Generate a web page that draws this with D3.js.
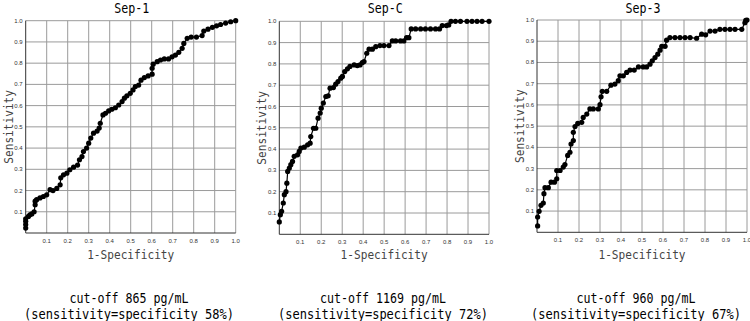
<!DOCTYPE html>
<html><head><meta charset="utf-8">
<script src="https://cdn.jsdelivr.net/npm/d3@7"></script>
<style>body{margin:0;background:#fff}svg{display:block}</style>
</head><body>
<svg id="c" width="750" height="321"></svg>
<script>
const titles = ["Sep-1", "Sep-C", "Sep-3"];
const cutoffLines = ["cut-off 865 pg/mL", "cut-off 1169 pg/mL", "cut-off 960 pg/mL"];
const sensLines = ["(sensitivity=specificity 58%)", "(sensitivity=specificity 72%)", "(sensitivity=specificity 67%)"];
const tickLabels = ["0.1","0.2","0.3","0.4","0.5","0.6","0.7","0.8","0.9","1.0"];
const tickValues = [0.1,0.2,0.3,0.4,0.5,0.6,0.7,0.8,0.9,1.0];

const sep1 = [[0,0.023],[0,0.04],[0,0.055],[0,0.067],[0.013,0.078],[0.02,0.086],[0.029,0.09],[0.04,0.1],[0.045,0.133],[0.045,0.15],[0.052,0.157],[0.068,0.165],[0.084,0.172],[0.1,0.18],[0.116,0.204],[0.13,0.2],[0.148,0.21],[0.164,0.227],[0.167,0.26],[0.18,0.274],[0.196,0.282],[0.21,0.298],[0.228,0.31],[0.247,0.32],[0.256,0.345],[0.268,0.36],[0.275,0.384],[0.29,0.4],[0.3,0.423],[0.31,0.447],[0.323,0.47],[0.34,0.48],[0.35,0.494],[0.355,0.517],[0.368,0.556],[0.38,0.564],[0.395,0.575],[0.41,0.583],[0.427,0.59],[0.443,0.603],[0.459,0.619],[0.47,0.635],[0.482,0.646],[0.498,0.658],[0.511,0.674],[0.522,0.69],[0.538,0.697],[0.549,0.72],[0.565,0.732],[0.583,0.74],[0.602,0.748],[0.602,0.776],[0.607,0.795],[0.626,0.807],[0.642,0.815],[0.66,0.82],[0.68,0.82],[0.697,0.83],[0.713,0.838],[0.729,0.851],[0.745,0.87],[0.753,0.893],[0.769,0.917],[0.788,0.923],[0.813,0.923],[0.84,0.93],[0.848,0.951],[0.868,0.96],[0.889,0.969],[0.909,0.976],[0.928,0.982],[0.952,0.989],[0.976,0.995],[1,1]];

const sepC = [[0,0.058],[0.005,0.092],[0.011,0.108],[0.019,0.147],[0.024,0.186],[0.032,0.2],[0.036,0.24],[0.04,0.295],[0.048,0.311],[0.055,0.327],[0.063,0.342],[0.071,0.366],[0.087,0.373],[0.095,0.389],[0.103,0.405],[0.119,0.409],[0.135,0.42],[0.147,0.428],[0.15,0.459],[0.163,0.498],[0.174,0.498],[0.185,0.545],[0.195,0.569],[0.2,0.592],[0.21,0.616],[0.222,0.647],[0.233,0.65],[0.242,0.686],[0.258,0.689],[0.269,0.705],[0.28,0.717],[0.293,0.733],[0.301,0.741],[0.312,0.764],[0.325,0.777],[0.337,0.788],[0.357,0.795],[0.372,0.792],[0.385,0.795],[0.396,0.806],[0.404,0.811],[0.417,0.85],[0.428,0.869],[0.444,0.869],[0.46,0.881],[0.48,0.886],[0.499,0.886],[0.523,0.886],[0.539,0.908],[0.555,0.908],[0.578,0.908],[0.594,0.908],[0.607,0.923],[0.618,0.923],[0.629,0.964],[0.65,0.964],[0.674,0.964],[0.697,0.964],[0.721,0.964],[0.745,0.964],[0.764,0.964],[0.777,0.98],[0.797,0.98],[0.808,0.983],[0.819,1],[0.84,1],[0.864,1],[0.895,1],[0.919,1],[0.943,1],[0.967,1],[1,1]];

const sep3 = [[0.003,0.03],[0.003,0.072],[0.01,0.099],[0.019,0.127],[0.03,0.138],[0.033,0.182],[0.038,0.21],[0.054,0.21],[0.067,0.236],[0.083,0.236],[0.094,0.252],[0.094,0.291],[0.11,0.291],[0.125,0.307],[0.133,0.319],[0.146,0.362],[0.157,0.377],[0.162,0.416],[0.173,0.432],[0.173,0.471],[0.181,0.498],[0.194,0.513],[0.213,0.518],[0.22,0.541],[0.237,0.557],[0.252,0.581],[0.268,0.581],[0.292,0.581],[0.3,0.601],[0.305,0.638],[0.311,0.664],[0.332,0.664],[0.352,0.693],[0.371,0.698],[0.387,0.714],[0.395,0.737],[0.411,0.737],[0.427,0.753],[0.443,0.764],[0.463,0.764],[0.483,0.779],[0.506,0.779],[0.522,0.779],[0.538,0.792],[0.549,0.808],[0.562,0.823],[0.575,0.839],[0.586,0.858],[0.594,0.876],[0.61,0.876],[0.617,0.905],[0.633,0.917],[0.657,0.917],[0.681,0.917],[0.705,0.917],[0.729,0.917],[0.76,0.914],[0.784,0.933],[0.803,0.93],[0.824,0.948],[0.848,0.948],[0.871,0.956],[0.895,0.956],[0.919,0.956],[0.943,0.956],[0.975,0.956],[0.99,0.987],[0.994,0.998],[1,1]];

const seriesList = [sep1, sepC, sep3];
const panels = [
  {x0: 25.7, x1: 235.7, y0: 233, y1: 20.7, noteX: 129},
  {x0: 279.3, x1: 489, y0: 234.3, y1: 21.3, noteX: 383},
  {x0: 537, x1: 747, y0: 232.3, y1: 20, noteX: 636}
];
const FONT = "'DejaVu Sans Mono', monospace";
const MONO_W = 0.602; // advance width of DejaVu Sans Mono in em
const svg = d3.select("#c");

// draw monospace text condensed horizontally so each char is charW wide
function condText(parent, str, cx, cy, size, charW, fill, rotate) {
  const sx = charW / (MONO_W * size);
  const t = parent.append("text")
    .attr("transform", `translate(${cx},${cy})${rotate ? " rotate(-90)" : ""} scale(${sx},1)`)
    .attr("text-anchor", "middle").attr("font-family", FONT)
    .attr("font-size", size).attr("fill", fill).text(str);
  return t;
}

panels.forEach((p, i) => {
  const x = d3.scaleLinear().domain([0, 1]).range([p.x0, p.x1]);
  const y = d3.scaleLinear().domain([0, 1]).range([p.y0, p.y1]);
  const g = svg.append("g");

  g.append("g").selectAll("line").data(tickValues).join("line")
    .attr("x1", d => x(d)).attr("x2", d => x(d)).attr("y1", y(0)).attr("y2", y(1))
    .attr("stroke", "#9a9a9a").attr("stroke-width", 1);
  g.append("g").selectAll("line").data(tickValues).join("line")
    .attr("x1", x(0)).attr("x2", x(1)).attr("y1", d => y(d)).attr("y2", d => y(d))
    .attr("stroke", "#9a9a9a").attr("stroke-width", 1);
  g.append("line").attr("x1", x(0)).attr("x2", x(1)).attr("y1", y(0)).attr("y2", y(0)).attr("stroke", "#333");
  g.append("line").attr("x1", x(0)).attr("x2", x(0)).attr("y1", y(0)).attr("y2", y(1)).attr("stroke", "#333");

  g.append("g").selectAll("text").data(tickValues).join("text")
    .attr("x", d => x(d)).attr("y", p.y0 + 9.5).attr("text-anchor", "middle")
    .attr("font-family", "Liberation Sans, Arial, sans-serif").attr("font-size", 6).attr("fill", "#333")
    .text((d, k) => tickLabels[k]);
  g.append("g").selectAll("text").data(tickValues).join("text")
    .attr("x", p.x0 - 3).attr("y", d => y(d) + 2).attr("text-anchor", "end")
    .attr("font-family", "Liberation Sans, Arial, sans-serif").attr("font-size", 6).attr("fill", "#333")
    .text((d, k) => tickLabels[k]);

  const data = seriesList[i];
  const line = d3.line().x(d => x(d[0])).y(d => y(d[1]));
  g.append("path").attr("d", line(data)).attr("fill", "none").attr("stroke", "#000").attr("stroke-width", 1.2);
  g.append("g").selectAll("circle").data(data).join("circle")
    .attr("cx", d => x(d[0])).attr("cy", d => y(d[1])).attr("r", 2.6).attr("fill", "#000");

  const cx = (p.x0 + p.x1) / 2;
  condText(g, titles[i], cx + 1, 12.5, 13.5, 7, "#000");
  condText(g, "1-Specificity", cx, 258.5, 13, 6.7, "#444");
  condText(g, "Sensitivity", p.x0 - 13, (p.y0 + p.y1) / 2, 13, 6.7, "#444", true);
  condText(g, cutoffLines[i], p.noteX, 302.5, 14.5, 7.0, "#000");
  condText(g, sensLines[i], p.noteX, 318.5, 14.5, 7.25, "#000");
});
</script>
</body></html>
